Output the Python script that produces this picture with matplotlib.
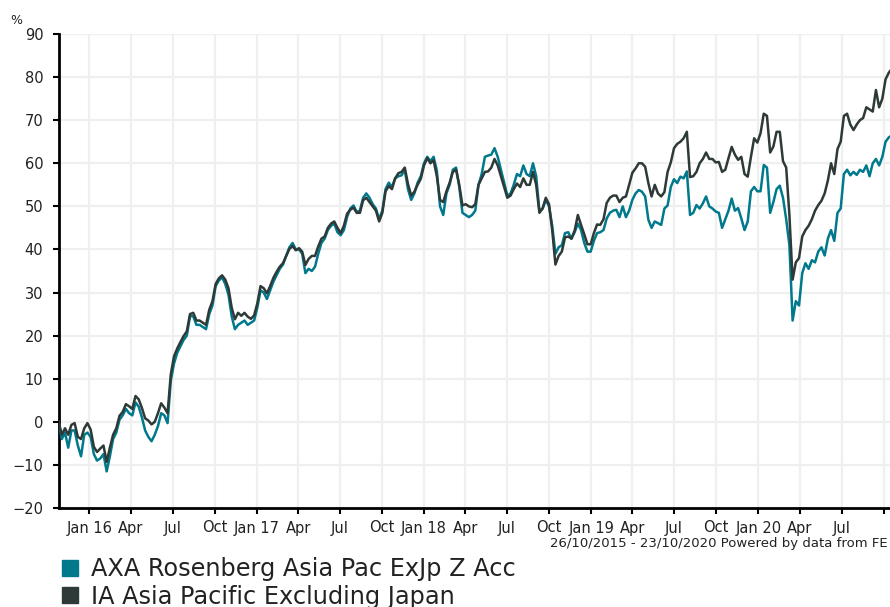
import numpy as np
import pandas as pd
import matplotlib
matplotlib.use('Agg')
import matplotlib.pyplot as plt
from matplotlib.lines import Line2D

### data (weekly, % growth)
dates = pd.date_range('2015-10-26', periods=261, freq='7D')

ia_asia = [0, -3, -1.5, -3, -0.7, -0.3, -3.5, -4, -1.5, -0.3, -1.8, -5.8, -7, -6.2, -5.5,
           -9.3, -6, -3, -1.5, 1.4, 2.3, 4.1, 3.6, 3, 6, 5.2, 3.2, 0.8, 0.3, -0.6,
           0, 2, 4.3, 3.3, 2, 11, 15.2, 17, 18.5, 19.9, 21, 25, 25.3, 23.5, 23.5,
           23, 22.5, 26, 28, 32, 33.3, 34, 33, 31, 26.5, 23.8, 25.3, 24.6, 25.3, 24.4,
           23.9, 24.7, 27.5, 31.5, 31, 29.8, 31.5, 33.4, 34.8, 36, 36.8, 38.5, 40.1, 40.8, 39.8,
           40.3, 39.5, 36.4, 37.8, 38.5, 38.5, 40.7, 42.5, 43, 45, 46, 46.5, 45, 43.8,
           45.5, 48.3, 49.2, 49.7, 48.5, 48.5, 51.4, 52, 51, 50, 49, 46.5, 48.5, 53.5, 54.7,
           54, 56.5, 57.7, 58, 59, 55.2, 52.5, 53.4, 55, 56.4, 59.5, 61.2, 60, 60.7, 57,
           51.5, 51, 53.5, 55.5, 58, 58.5, 55, 50.2, 50.5, 50, 49.8, 50.5, 55, 56.5,
           58, 58.1, 59, 61, 59.5, 57, 54.5, 52, 52.5, 54, 55.3, 54.5, 56.5, 55, 55,
           58, 55, 48.5, 49.5, 52, 50.5, 44.5, 36.5, 38.5, 39.5, 42.8, 43, 42.5, 44.4, 48,
           45.7, 43.5, 41.2, 41.2, 43.8, 45.8, 45.7, 47, 50.8, 52, 52.5, 52.5, 51, 52,
           52.3, 55, 57.8, 58.8, 60, 60, 59.2, 55.4, 52.3, 55, 53, 52.3, 53.3, 58, 60.2,
           63.5, 64.5, 65, 65.8, 67.3, 56.8, 57, 58, 60, 61, 62.5, 61, 61, 60.2, 60.3,
           58, 58.5, 61.2, 63.8, 62, 60.8, 61.5, 57.5, 56.9, 61.5, 65.8, 64.8, 67,
           71.5, 71, 62.5, 63.9, 67.3, 67.3, 60.5, 59, 48, 33, 37, 38, 43, 44.5, 45.5,
           47, 49, 50.3, 51.3, 53, 56, 60, 57.5, 63.3, 65, 71, 71.5, 69, 67.7, 69,
           70, 70.5, 73, 72.5, 72, 77, 73, 75, 79.5, 81, 82]

axa_fund = [0, -4, -2.5, -6, -2, -2, -5.5, -8, -3, -2.5, -3.5, -7.5, -9, -8.5, -7.5,
            -11.5, -8, -4, -2.5, 0.5, 1.5, 3, 2, 1.5, 4.5, 3.5, 1, -2, -3.5, -4.5,
            -3, -1, 2, 1.5, -0.3, 9.5, 13.5, 16, 17.5, 19, 20, 24.5, 24.5, 22.5, 22.5,
            22, 21.5, 25, 27, 31.5, 32.8, 33.5, 32, 29.5, 24.5, 21.5, 22.5, 23, 23.5, 22.5,
            23, 23.5, 26.5, 30.5, 30, 28.5, 30.5, 32.5, 34, 35.5, 36.5, 38.5, 40.5, 41.5, 40,
            40, 39, 34.5, 35.5, 35, 36, 39, 41.5, 42.5, 44.5, 45.5, 46, 44, 43.3,
            44.5, 47.5, 49.5, 50.2, 48.7, 49, 52, 53, 52, 50.5, 49.5, 47, 49, 54, 55.5,
            54.5, 56.5, 57, 57.2, 58.5, 54, 51.5, 53, 55.5, 57, 60, 61.5, 60.5, 61.5, 58.3,
            50, 48, 53, 55, 58.5, 59, 54.5, 48.5, 48, 47.5, 48, 49, 55, 57.5,
            61.5, 61.8, 62, 63.5, 61.5, 58.5, 55.5, 52.5, 53, 55, 57.5, 57, 59.5, 57.5, 57,
            60, 57, 49, 49.5, 51.5, 50, 45.5, 39, 40.5, 41, 43.8, 44, 42.5, 44, 46,
            44.5, 41.5, 39.5, 39.5, 42, 43.8, 44, 44.5, 47.2, 48.5, 49, 49.2, 47.5, 50,
            47.5, 49, 51.5, 53, 53.8, 53.4, 52.3, 46.9, 45, 46.5, 46.1, 45.7, 49.5, 50.2, 54.5,
            56.3, 55.4, 56.9, 56.5, 58.1, 48, 48.5, 50.3, 49.5, 50.7, 52.3, 50, 49.5, 48.8, 48.5,
            45, 47, 49, 51.8, 49, 49.6, 47.2, 44.5, 46.5, 53.5, 54.5, 53.5, 53.5,
            59.6, 59, 48.5, 51, 54, 54.8, 52, 47, 41, 23.5, 28, 27, 34.5, 36.8, 35.5,
            37.5, 37, 39.5, 40.5, 38.6, 42.5, 44.5, 42, 48.5, 49.5, 57.5, 58.5, 57.2, 58, 57.3,
            58.5, 58, 59.5, 57, 60, 61, 59.5, 61.5, 65, 66, 66.5]

names = ['AXA Rosenberg Asia Pac ExJp Z Acc', 'IA Asia Pacific Excluding Japan']
colors = ['#00798c', '#2e3a37']

### figure
fig = plt.figure(figsize=(8.9, 6.07), dpi=100)
ax = fig.add_axes([58.6/890, 99/607, 835.2/890, 474/607])

ax.plot(dates, axa_fund, color=colors[0], lw=1.8, zorder=3)
ax.plot(dates, ia_asia, color=colors[1], lw=1.8, zorder=4)

ax.set_xlim(pd.Timestamp('2015-10-26'), pd.Timestamp('2020-10-23'))
ax.set_ylim(-20, 90)
ax.set_yticks(np.arange(-20, 91, 10))

ticks = pd.date_range('2016-01-01', '2020-10-01', freq='QS')
labels = []
for t in ticks:
    if t.month == 1:
        labels.append(t.strftime('%b %y'))
    else:
        labels.append(t.strftime('%b'))
labels[-1] = ''
ax.set_xticks(ticks)
ax.set_xticklabels(labels)

ax.grid(True, color='#efefef', lw=1.6, zorder=0)
ax.set_axisbelow(True)
for s in ['top', 'right']:
    ax.spines[s].set_visible(False)
for s in ['left', 'bottom']:
    ax.spines[s].set_linewidth(2)
    ax.spines[s].set_color('black')
ax.tick_params(axis='y', length=4, width=1.5, pad=7, labelsize=10.5, colors='black')
ax.tick_params(axis='x', length=4, width=1.5, pad=5, labelsize=10.5, colors='black')
for lab in ax.get_xticklabels() + ax.get_yticklabels():
    lab.set_color('#222222')

fig.text(10/890, 1 - 20/607, '%', fontsize=9, va='center', ha='left', color='#222222')
fig.text(888/890, 1 - 543/607, '26/10/2015 - 23/10/2020 Powered by data from FE',
         fontsize=9.5, ha='right', va='center', color='#222222')

handles = [Line2D([], [], ls='none', marker='s', markersize=11, color=c) for c in colors]
fig.legend(handles, names, loc='upper left', bbox_to_anchor=(59/890, 1 - 557/607),
           frameon=False, fontsize=17.3, handlelength=0.9, handletextpad=0.45,
           labelspacing=0.15, borderpad=0, borderaxespad=0, labelcolor='#222222')

fig.savefig('out.png', dpi=100)
